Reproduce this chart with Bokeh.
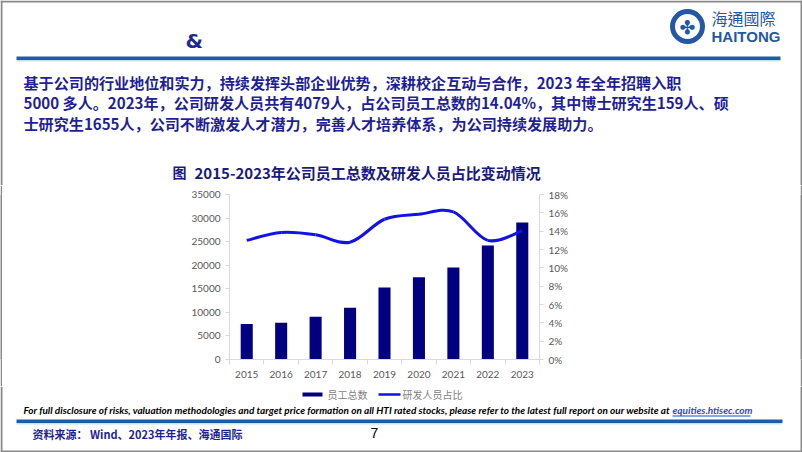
import numpy as np
from bokeh.plotting import figure
from bokeh.layouts import column, row
from bokeh.models import (Range1d, LinearAxis, FixedTicker, ColumnDataSource)
from bokeh.core.properties import value
from bokeh.embed import file_html
from bokeh.resources import INLINE

# ---------------- data ----------------
years = [2015, 2016, 2017, 2018, 2019, 2020, 2021, 2022, 2023]
employees = [7530, 7800, 9070, 10960, 15250, 17430, 19540, 24170, 29050]
rd_share = [13.0, 13.85, 13.6, 12.8, 15.3, 15.85, 16.1, 13.0, 14.04]
left_ticks = [0, 5000, 10000, 15000, 20000, 25000, 30000, 35000]
right_ticks = [0, 2, 4, 6, 8, 10, 12, 14, 16, 18]
series_names = ["员工总数", "研发人员占比"]

title_text = "2015-2023年公司员工总数及研发人员占比变动情况"
para_lines = [
    "基于公司的行业地位和实力，持续发挥头部企业优势，深耕校企互动与合作，2023 年全年招聘入职",
    "5000 多人。2023年，公司研发人员共有4079人，占公司员工总数的14.04%，其中博士研究生159人、硕",
    "士研究生1655人，公司不断激发人才潜力，完善人才培养体系，为公司持续发展助力。",
]
disclaimer = ("For full disclosure of risks, valuation methodologies and target price formation "
              "on all HTI rated stocks, please refer to the latest full report on our website at")
link_text = "equities.htisec.com"
source_text = "资料来源： Wind、2023年年报、海通国际"

# ---------------- layout (canvas px) ----------------
W = 802
HEAD_H = 185          # header band: 0..185
CHART_TOP, CHART_BOT = 185, 386
FOOT_H = 452 - CHART_BOT
FL, FT, FR, FB = 229, 194, 539, 359
STRIP = 2

NAVY = "#000080"
LINE_C = "#1212e6"
TXT = "#1f1f96"
BLUE_BAND = "#1c5ca8"
LIGHT_BAND = "#bfe3f5"
BORDER = "#8a8a8a"
LOGO = "#2457a5"


def canvas_fig(h, y0):
    f = figure(width=W, height=h, output_backend="svg", toolbar_location=None,
               x_range=Range1d(0, W), y_range=Range1d(y0 + h, y0),
               min_border=0, x_axis_location=None, y_axis_location=None)
    f.outline_line_color = None
    f.xgrid.visible = False
    f.ygrid.visible = False
    f.background_fill_color = "white"
    f.border_fill_color = "white"
    return f


def txt(f, s, x, y, size, color, font="Noto Sans CJK SC", style="bold", align="left"):
    f.text(x=[x], y=[y], text=[s], text_font=value(font), text_font_size=value(f"{size}px"),
           text_font_style=style, text_color=color, text_align=align, text_baseline="middle")


def box(f, l, r, t, b, color):
    f.quad(left=[l], right=[r], top=[t], bottom=[b], fill_color=color, line_color=None)


# ---------------- header ----------------
hd = canvas_fig(HEAD_H, 0)
box(hd, 0, 2, 0, HEAD_H, BORDER)
box(hd, W - 2, W, 0, HEAD_H, BORDER)
box(hd, 0, W, 0, 2, BORDER)
txt(hd, "&", 185, 40, 20, "#1a2a8f", font="DejaVu Sans")
box(hd, 16, 780, 56, 59.5, BLUE_BAND)
box(hd, 16, 780, 59.5, 61, LIGHT_BAND)
for i, line in enumerate(para_lines):
    txt(hd, line, 23, 81 + 20.5 * i, 15.1, TXT)
# logo
hd.annulus(x=[687], y=[26], inner_radius=12.5, outer_radius=17.5, fill_color=LOGO, line_color=None)
txt(hd, "✤", 687, 26.5, 19, LOGO, font="DejaVu Sans", style="normal", align="center")
txt(hd, "海通國際", 711, 17.5, 16, LOGO, font="Noto Sans CJK TC", style="normal")
txt(hd, "HAITONG", 711, 36, 15, LOGO, font="Liberation Sans", style="bold")
# chart title
txt(hd, "图", 172, 171.5, 14, "#1a1a80")
txt(hd, title_text, 194, 171.5, 15, "#1a1a80")

# ---------------- chart ----------------
CH = CHART_BOT - CHART_TOP
p = figure(width=W - 2 * STRIP, height=CH, output_backend="svg", toolbar_location=None,
           x_range=Range1d(2014.5, 2023.5), y_range=Range1d(0, 35000),
           min_border_left=FL - STRIP, min_border_right=W - STRIP - FR,
           min_border_top=FT - CHART_TOP, min_border_bottom=CHART_BOT - FB,
           x_axis_location=None, y_axis_location=None)
p.outline_line_color = None
p.xgrid.visible = False
p.ygrid.visible = False
p.background_fill_color = "white"
p.border_fill_color = "white"
p.extra_y_ranges = {"pct": Range1d(0, 18)}

AX = "#d9d9d9"
LBL = "#595959"
yl = LinearAxis(ticker=FixedTicker(ticks=left_ticks, minor_ticks=[]))
yr = LinearAxis(y_range_name="pct", ticker=FixedTicker(ticks=right_ticks, minor_ticks=[]))
yr.major_label_overrides = {t: f"{t}%" for t in right_ticks}
bounds = [2014.5 + i for i in range(len(years) + 1)]
xa = LinearAxis(ticker=FixedTicker(ticks=years, minor_ticks=bounds))
xa.major_label_overrides = {y: str(y) for y in years}
for ax in (yl, yr, xa):
    ax.axis_line_color = AX
    ax.major_tick_line_color = AX
    ax.minor_tick_line_color = AX
    ax.major_label_text_color = LBL
    ax.major_label_text_font = "Lato"
    ax.major_label_text_font_size = "10px"
    ax.major_tick_in = 0
    ax.minor_tick_in = 0
    ax.minor_tick_out = 0
    ax.major_tick_out = 4
    ax.major_label_standoff = 5
xa.major_tick_out = 0
xa.minor_tick_out = 5
xa.major_label_standoff = 6
p.add_layout(yl, "left")
p.add_layout(yr, "right")
p.add_layout(xa, "below")

bars = p.vbar(x=years, top=employees, width=0.35, fill_color=NAVY, line_color=None)

# smooth (Excel-like) curve through the data points
n = len(years)
pts = list(zip([float(v) for v in years], rd_share))
segs = {"x0": [], "y0": [], "x1": [], "y1": [], "cx0": [], "cy0": [], "cx1": [], "cy1": []}
for i in range(n - 1):
    p0 = pts[i - 1] if i > 0 else pts[i]
    p1 = pts[i]
    p2 = pts[i + 1]
    p3 = pts[i + 2] if i + 2 < n else pts[i + 1]
    segs["x0"].append(p1[0]); segs["y0"].append(p1[1])
    segs["x1"].append(p2[0]); segs["y1"].append(p2[1])
    segs["cx0"].append(p1[0] + (p2[0] - p0[0]) / 6); segs["cy0"].append(p1[1] + (p2[1] - p0[1]) / 6)
    segs["cx1"].append(p2[0] - (p3[0] - p1[0]) / 6); segs["cy1"].append(p2[1] - (p3[1] - p1[1]) / 6)
curve = p.bezier(x0="x0", y0="y0", x1="x1", y1="y1", cx0="cx0", cy0="cy0", cx1="cx1", cy1="cy1",
                 source=ColumnDataSource(segs), line_color=LINE_C, line_width=3,
                 y_range_name="pct")


def strip(h):
    s = figure(width=STRIP, height=h, output_backend="svg", toolbar_location=None,
               min_border=0, x_axis_location=None, y_axis_location=None)
    s.outline_line_color = None
    s.xgrid.visible = False
    s.ygrid.visible = False
    s.background_fill_color = BORDER
    s.border_fill_color = BORDER
    return s


mid = row(strip(CH), p, strip(CH), spacing=0)

# ---------------- footer (legend + notes) ----------------
ft = canvas_fig(FOOT_H, CHART_BOT)
box(ft, 0, 2, CHART_BOT, 452, BORDER)
box(ft, W - 2, W, CHART_BOT, 452, BORDER)
box(ft, 0, W, 450, 452, BORDER)
# legend
box(ft, 302, 322, 392, 396, NAVY)
txt(ft, series_names[0], 327, 394, 10, "#7f7f7f", style="normal")
ft.line(x=[378, 400], y=[394, 394], line_color=LINE_C, line_width=2.5)
txt(ft, series_names[1], 402, 394, 10, "#7f7f7f", style="normal")
# notes
txt(ft, disclaimer, 23, 409.5, 10, "#000000", font="Lato", style="bold italic")
txt(ft, link_text, 672, 409.5, 10, "#1f4fbf", font="Lato", style="bold italic")
box(ft, 672, 750, 415, 416, "#1f4fbf")
box(ft, 16, 782, 419, 422.5, BLUE_BAND)
box(ft, 16, 782, 422.5, 424, LIGHT_BAND)
txt(ft, source_text, 32, 433, 11, TXT)
txt(ft, "7", 370, 432, 14, "#000000", font="Liberation Sans", style="normal")

page = column(hd, mid, ft, spacing=0)
open("out.html", "w").write(file_html(page, INLINE))
